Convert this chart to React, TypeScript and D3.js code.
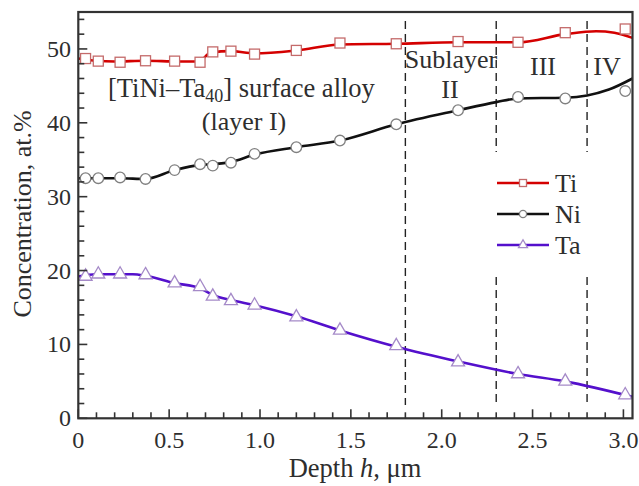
import React from "react";
import * as d3 from "d3";

// Measured points (markers)
const depthPts = [0.04, 0.11, 0.23, 0.37, 0.53, 0.67, 0.74, 0.84, 0.97, 1.2, 1.44, 1.75, 2.09, 2.42, 2.68, 3.01];
const tiPts = [48.7, 48.35, 48.2, 48.4, 48.35, 48.2, 49.6, 49.7, 49.3, 49.8, 50.8, 50.7, 51.0, 50.9, 52.2, 52.7];
const niPts = [32.5, 32.5, 32.6, 32.4, 33.6, 34.4, 34.2, 34.6, 35.8, 36.7, 37.6, 39.8, 41.7, 43.5, 43.3, 44.3];
const taPts = [19.2, 19.5, 19.5, 19.4, 18.3, 17.8, 16.5, 15.9, 15.3, 13.7, 11.9, 9.8, 7.6, 6.0, 5.0, 3.15];

// Smoothed fit curves
const tiFitX = [0, 0.1, 0.2, 0.37, 0.55, 0.66, 0.73, 0.84, 0.97, 1.2, 1.44, 1.75, 2.09, 2.42, 2.68, 2.85, 2.95, 3.05];
const tiFitY = [48.7, 48.4, 48.3, 48.4, 48.3, 48.3, 49.5, 49.7, 49.4, 49.8, 50.6, 50.7, 50.9, 50.9, 52.0, 52.4, 52.2, 51.5];
const niFitX = [0, 0.1, 0.23, 0.37, 0.53, 0.67, 0.74, 0.84, 0.97, 1.2, 1.44, 1.75, 2.09, 2.3, 2.42, 2.68, 2.8, 2.92, 3.05];
const niFitY = [32.5, 32.5, 32.5, 32.4, 33.6, 34.3, 34.4, 34.7, 35.7, 36.7, 37.6, 39.8, 41.7, 42.8, 43.3, 43.4, 43.7, 44.5, 46.0];
const taFitX = [0, 0.1, 0.23, 0.3, 0.37, 0.53, 0.67, 0.74, 0.84, 0.97, 1.2, 1.44, 1.75, 2.09, 2.42, 2.68, 3.05];
const taFitY = [19.2, 19.5, 19.5, 19.5, 19.3, 18.3, 17.6, 16.7, 16.0, 15.3, 13.8, 11.9, 9.7, 7.7, 6.0, 5.0, 2.9];

const xTicks = [0, 0.5, 1.0, 1.5, 2.0, 2.5, 3.0];
const xTickLabels = ["0", "0.5", "1.0", "1.5", "2.0", "2.5", "3.0"];
const yTicks = [0, 10, 20, 30, 40, 50];
const boundaries = [1.8, 2.3, 2.8];
const seriesNames = ["Ti", "Ni", "Ta"];

const W = 639, H = 486;
const X0 = 78.3, X1 = 632.5, Y0 = 418.3, Y1 = 12;

export default function App() {
  const x = d3.scaleLinear().domain([0, 3.05]).range([X0, X1]);
  const y = d3.scaleLinear().domain([0, 55]).range([Y0, Y1]);
  const font = "Liberation Serif, Times New Roman, DejaVu Serif, serif";
  const txt = "#2e2e2e";
  const ts = { fontFamily: font };

  const line = (xs: number[], ys: number[]) =>
    d3.line<number>().x((_, i) => x(xs[i])).y((v) => y(v)).curve(d3.curveMonotoneX)(ys) || "";

  const minorX = d3.range(0, 31).map((i) => i / 10);
  const minorY = d3.range(0, 28).map((i) => i * 2);

  const colors = { Ti: "#d40000", Ni: "#111111", Ta: "#5410cc" };
  const mStroke = { Ti: "#c46a6a", Ni: "#808080", Ta: "#a58ac8" };

  const square = (cx: number, cy: number, s: number, key: string) => (
    <rect key={key} x={cx - s / 2} y={cy - s / 2} width={s} height={s} fill="#fff" stroke={mStroke.Ti} strokeWidth={1.3} />
  );
  const circle = (cx: number, cy: number, r: number, key: string) => (
    <circle key={key} cx={cx} cy={cy} r={r} fill="#fff" stroke={mStroke.Ni} strokeWidth={1.3} />
  );
  const tri = (cx: number, cy: number, s: number, key: string) => {
    const h = s * 0.87;
    const p = `M${cx},${cy - (2 * h) / 3}L${cx + s / 2},${cy + h / 3}L${cx - s / 2},${cy + h / 3}Z`;
    return <path key={key} d={p} fill="#fff" stroke={mStroke.Ta} strokeWidth={1.3} />;
  };

  const legendY = [183, 214, 245];

  return (
    <svg width={W} height={H} style={{ position: "absolute", left: 0, top: 0, background: "#fff" }}>
      {/* dashed boundaries */}
      {boundaries.map((b, i) =>
        i === 0 ? (
          <line key={"b" + i} x1={x(b)} x2={x(b)} y1={21} y2={405} stroke="#222" strokeWidth={1.4} strokeDasharray="8,5" />
        ) : (
          <g key={"b" + i}>
            <line x1={x(b)} x2={x(b)} y1={21} y2={152} stroke="#222" strokeWidth={1.4} strokeDasharray="8,5" />
            <line x1={x(b)} x2={x(b)} y1={277} y2={405} stroke="#222" strokeWidth={1.4} strokeDasharray="8,5" />
          </g>
        )
      )}

      {/* lines */}
      <path d={line(tiFitX, tiFitY)} fill="none" stroke={colors.Ti} strokeWidth={2.6} />
      <path d={line(niFitX, niFitY)} fill="none" stroke={colors.Ni} strokeWidth={2.6} />
      <path d={line(taFitX, taFitY)} fill="none" stroke={colors.Ta} strokeWidth={2.6} />

      {/* markers */}
      {depthPts.map((d, i) => square(x(d), y(tiPts[i]), 10, "s" + i))}
      {depthPts.map((d, i) => circle(x(d), y(niPts[i]), 5.3, "c" + i))}
      {depthPts.map((d, i) => tri(x(d), y(taPts[i]), 13, "t" + i))}

      {/* frame */}
      <rect x={X0} y={Y1} width={X1 - X0} height={Y0 - Y1} fill="none" stroke="#333" strokeWidth={2.2} />

      {/* ticks */}
      {minorX.map((v, i) => {
        const major = Math.abs(v * 2 - Math.round(v * 2)) < 1e-6;
        return <line key={"mx" + i} x1={x(v)} x2={x(v)} y1={Y0} y2={Y0 - (major ? 9 : 6)} stroke="#333" strokeWidth={1.6} />;
      })}
      {minorY.map((v, i) => {
        const major = v % 10 === 0;
        return <line key={"my" + i} x1={X0} x2={X0 + (major ? 9 : 6)} y1={y(v)} y2={y(v)} stroke="#333" strokeWidth={1.6} />;
      })}

      {/* tick labels */}
      {xTicks.map((v, i) => (
        <text key={"xl" + i} style={ts} x={x(v)} y={448} fontSize={24} fill={txt} textAnchor="middle">
          {xTickLabels[i]}
        </text>
      ))}
      {yTicks.map((v, i) => (
        <text key={"yl" + i} style={ts} x={71} y={y(v) + 8} fontSize={24} fill={txt} textAnchor="end">
          {v}
        </text>
      ))}

      {/* axis titles */}
      <text style={ts} x={355} y={477} fontSize={26.5} fill={txt} textAnchor="middle">
        Depth <tspan fontStyle="italic">h</tspan>, μm
      </text>
      <text style={ts} transform="translate(31,214) rotate(-90)" fontSize={26} fill={txt} textAnchor="middle">
        Concentration, at.%
      </text>

      {/* annotations */}
      <text style={ts} x={108} y={97} fontSize={26.5} fill={txt}>
        [TiNi–Ta<tspan fontSize={18} dy={5}>40</tspan><tspan dy={-5}>] surface alloy</tspan>
      </text>
      <text style={ts} x={244} y={129.5} fontSize={26} fill={txt} textAnchor="middle">(layer I)</text>
      <text style={ts} x={451} y={68} fontSize={26} fill={txt} textAnchor="middle">Sublayer</text>
      <text style={ts} x={450} y={98} fontSize={26} fill={txt} textAnchor="middle">II</text>
      <text style={ts} x={543} y={75} fontSize={26} fill={txt} textAnchor="middle">III</text>
      <text style={ts} x={607} y={75} fontSize={26} fill={txt} textAnchor="middle">IV</text>

      {/* legend */}
      {seriesNames.map((n, i) => {
        const ly = legendY[i];
        const c = (colors as any)[n];
        const mx = 523;
        return (
          <g key={"lg" + i}>
            <line x1={497} x2={549} y1={ly} y2={ly} stroke={c} strokeWidth={2.4} />
            {n === "Ti" ? square(mx, ly, 7, "ls") : n === "Ni" ? circle(mx, ly, 3.6, "lc") : tri(mx, ly, 9, "lt")}
            <text style={ts} x={555} y={ly + 9} fontSize={26} fill={txt}>{n}</text>
          </g>
        );
      })}
    </svg>
  );
}
